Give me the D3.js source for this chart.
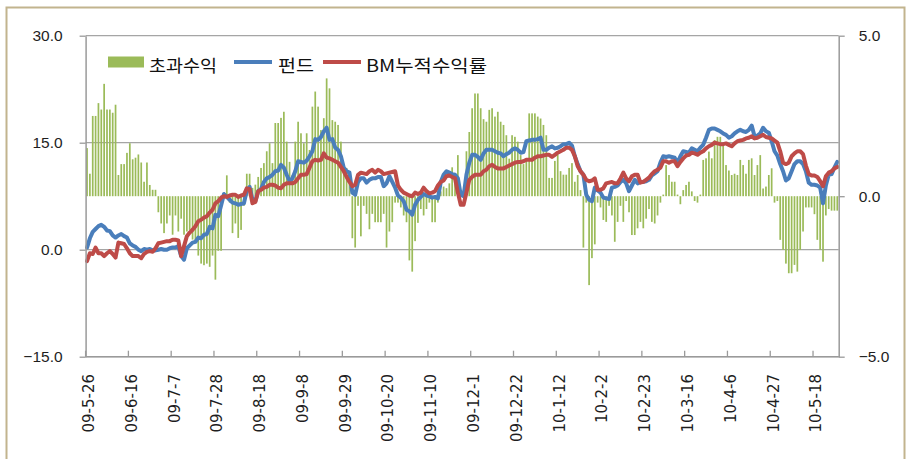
<!DOCTYPE html>
<html><head><meta charset="utf-8">
<script src="https://cdn.jsdelivr.net/npm/d3@7/dist/d3.min.js"></script>
<style>body{margin:0;background:#fff}svg{display:block}</style>
</head><body><svg id="c" width="909" height="459"></svg>
<script>
// ---- data ----
const startDate = "2009-05-26"; // first trading day (weekday categories)
const tickLabels = ["09-5-26","09-6-16","09-7-7","09-7-28","09-8-18","09-9-8","09-9-29","09-10-20","09-11-10","09-12-1","09-12-22","10-1-12","10-2-2","10-2-23","10-3-16","10-4-6","10-4-27","10-5-18"];
const seriesNames = ["초과수익","펀드","BM누적수익률"];
const leftTicks = [-15, 0, 15, 30];
const rightTicks = [-5, 0, 5];

const excess = [
1.5,0.7,2.5,2.5,2.9,2.7,3.5,2.7,2.7,2.6,
2.85,0.66,1.0,1.0,1.35,1.65,1.15,1.2,1.3,1.05,
0.45,1.05,0.35,0.2,0.2,-0.5,-0.85,-1.15,-0.85,-0.6,
-1.2,-0.6,-1.1,-0.7,-1.2,-1.1,-1.05,-1.35,-1.45,-1.85,
-2.1,-2.15,-2.1,-2.2,-1.85,-2.6,-1.7,-1.7,0.1,0.65,
-0.2,-1.15,-0.85,-1.3,-1.05,-0.3,0.7,0.7,0.26,0.36,
0.6,0.88,1.03,1.4,1.65,1.03,2.28,2.28,2.44,2.63,
1.7,1.07,0.66,1.7,2.32,1.96,1.65,1.96,1.44,2.79,
3.26,2.79,2.06,2.43,3.67,3.36,2.37,2.32,2.22,1.7,
0.88,0.88,0.4,-1.31,-1.6,-0.3,-1.25,-0.3,-0.55,-1.03,
-0.55,-0.81,-0.81,-0.81,-0.55,-1.6,-1.1,-0.81,-0.2,-0.2,
-0.35,-0.6,-0.81,-2.0,-2.35,-1.4,-0.83,-0.4,-0.6,-0.4,
-0.2,-0.81,-0.81,-0.2,0.15,0.3,0.25,0.4,0.9,0.7,
1.28,0.05,0.2,1.4,2.0,2.74,3.2,3.2,2.74,2.4,
2.32,2.69,2.74,2.48,2.63,2.32,2.22,1.9,1.17,1.9,
1.85,1.7,1.28,1.0,1.17,2.58,2.58,2.58,2.48,2.42,
2.22,1.9,0.57,0.57,1.1,1.3,0.78,0.67,0.67,0.88,
1.03,0.45,0.66,0.19,-1.6,-0.2,-2.77,-1.93,-1.5,-0.2,
-0.35,-0.74,-0.8,-0.3,-0.6,-1.42,-0.8,-0.3,-0.8,-0.15,
-0.5,-1.21,-1.21,-1.0,-0.8,-1.0,-0.7,-0.4,-0.8,-0.85,
-0.6,-0.2,0.05,0.97,0.66,0.45,0.45,0.05,-0.25,0.19,
0.35,0.45,0.15,-0.15,-0.2,0.05,1.13,1.18,1.39,1.18,
1.75,1.85,1.85,1.6,0.97,0.8,0.66,0.7,0.66,1.13,
0.97,0.7,1.13,1.18,0.66,0.97,1.28,0.24,0.3,0.66,
0.87,-0.2,-0.15,-1.36,-1.67,-2.1,-2.4,-2.4,-2.14,-2.35,
-1.67,-1.1,-0.35,-0.35,-0.35,-0.56,-1.36,-1.67,-2.04,-0.6,
-0.4,-0.45,-0.45,-0.45
];

const fund = [
0.3,1.6,2.5,2.9,3.3,3.5,3.2,2.7,2.6,2.0,
1.7,2.0,2.2,1.9,1.7,0.9,0.6,0.4,0.0,-0.2,
0.1,0.0,0.1,-0.1,-0.1,0.0,0.1,0.0,0.0,0.2,
0.3,0.3,0.5,-0.9,-1.4,0.2,0.6,1.0,1.1,1.7,
1.6,2.1,2.2,3.2,3.0,4.9,4.7,6.2,7.8,7.4,
7.0,6.6,6.5,6.3,6.4,6.5,8.3,8.8,7.0,6.8,
8.2,8.5,9.5,10.0,10.2,10.5,11.0,11.1,11.9,11.5,
10.5,9.6,10.0,11.0,12.4,12.3,12.2,12.5,13.1,13.8,
15.5,15.4,15.8,16.6,17.1,15.4,15.5,14.3,14.0,13.1,
11.5,11.0,10.8,8.0,7.7,9.5,10.0,10.0,9.4,9.8,
10.0,10.0,10.2,10.2,8.9,9.3,10.3,9.5,8.7,7.6,
7.3,6.8,5.6,5.4,4.9,6.3,7.0,7.4,7.8,7.6,
7.5,7.3,7.4,7.2,9.5,10.5,11.0,10.8,10.6,10.5,
10.0,7.7,7.5,10.5,12.2,13.3,13.3,13.0,12.6,13.5,
14.0,14.0,14.0,13.8,13.6,13.5,13.1,13.4,13.6,14.0,
14.2,14.0,13.6,13.7,15.2,15.3,15.4,15.4,15.5,15.7,
14.0,14.0,14.3,14.5,14.2,14.3,14.5,14.8,14.8,15.0,
14.6,13.1,12.0,11.0,10.5,7.7,7.0,6.8,8.7,8.3,
8.0,7.3,7.2,7.1,8.7,8.8,9.0,9.5,9.8,9.3,
8.2,9.0,9.8,9.3,9.5,9.5,9.6,9.8,10.4,10.7,
11.0,12.2,13.1,13.0,13.1,13.0,12.9,12.2,13.1,13.8,
13.7,13.6,14.2,14.0,13.8,14.3,14.7,15.7,16.8,17.0,
17.0,16.8,16.6,16.3,16.1,15.7,15.9,16.3,16.6,16.8,
16.6,16.5,16.8,17.4,15.9,16.0,16.3,17.1,16.6,16.4,
15.2,13.8,13.2,12.0,11.0,9.7,10.0,11.0,12.0,12.4,
12.4,12.0,11.0,9.4,9.1,9.1,9.0,8.7,6.5,9.0,
10.5,10.6,11.5,12.3
];

const bm = [
-1.6,-0.5,-0.6,0.3,-0.5,-0.5,-0.9,-0.5,-0.2,-0.6,
-1.1,1.0,0.9,0.8,0.2,-0.5,-0.9,-0.9,-0.9,-1.2,
-0.6,-0.3,-0.2,-0.3,0.2,0.9,1.0,1.1,1.2,1.2,
1.4,1.4,1.3,-0.9,0.5,1.9,2.4,2.8,3.3,4.0,
4.2,4.5,4.7,5.2,5.6,6.5,6.8,7.3,7.5,7.4,
7.6,7.7,7.7,7.4,7.6,7.7,8.6,8.5,6.5,6.7,
8.2,8.4,8.7,8.8,9.1,9.1,9.0,8.7,8.6,9.1,
9.3,9.3,9.3,9.5,10.0,10.5,10.5,10.6,11.5,12.4,
12.6,12.5,12.6,13.5,12.9,12.8,12.6,12.4,12.2,11.6,
11.0,10.2,9.5,8.9,9.1,10.5,10.8,10.7,10.6,11.0,
11.2,10.8,11.2,11.0,10.6,10.7,10.8,10.9,11.0,9.0,
8.4,8.0,7.8,7.6,7.5,8.0,7.8,8.0,8.7,8.2,
7.9,8.0,8.2,9.0,9.5,9.7,10.3,10.4,10.2,10.0,
8.0,6.3,6.3,8.0,9.8,10.2,10.5,10.5,10.5,11.0,
11.2,11.7,11.9,11.6,11.4,11.4,11.4,11.6,11.8,12.0,
12.2,12.3,12.3,12.4,12.6,12.6,12.6,12.9,13.1,13.1,
13.2,13.3,13.3,13.0,13.3,13.6,13.8,14.0,14.3,14.3,
14.0,13.1,11.7,11.0,10.5,9.8,9.6,9.7,10.0,8.4,
8.4,8.6,9.3,9.4,9.5,9.3,9.3,10.0,10.8,10.0,
9.6,10.3,10.5,10.5,9.4,9.5,9.8,10.1,10.6,11.0,
11.2,11.5,12.4,12.4,12.2,12.4,12.4,11.7,12.3,12.8,
13.2,13.3,13.6,13.5,13.3,13.6,13.8,14.2,14.5,14.7,
15.0,14.9,14.8,14.8,14.9,14.7,14.5,14.9,15.2,15.3,
15.4,15.6,15.7,15.9,15.6,15.7,15.9,16.1,15.8,15.7,
15.6,15.3,15.0,13.8,12.2,12.0,12.2,13.1,13.5,13.8,
13.8,13.4,11.8,10.6,10.4,10.4,10.2,9.6,8.9,10.3,
10.8,11.0,11.4,11.6
];

// ---- categories: weekdays from start ----
const n = fund.length;
const cats = [];
{
  let d = d3.timeParse("%Y-%m-%d")(startDate);
  while (cats.length < n) {
    const wd = d.getDay();
    if (wd > 0 && wd < 6) cats.push(d);
    d = d3.timeDay.offset(d, 1);
  }
}
const fmtCat = d => `${d3.timeFormat("%y")(d)}-${d.getMonth() + 1}-${d.getDate()}`;

// ---- layout ----
const L = 85.6, R = 838.7, T = 35.7, B = 356.7;
const svg = d3.select("#c");
const x = d3.scaleBand().domain(d3.range(n)).range([L, R]).paddingInner(0.4).paddingOuter(0.2);
const step = x.step();
const cx = i => x(i) + x.bandwidth() / 2;
const yL = d3.scaleLinear().domain([-15, 30]).range([B, T]);
const yR = d3.scaleLinear().domain([-5, 5]).range([B, T]);

// outer frame
svg.append("rect").attr("x", 6.5).attr("y", 7.5).attr("width", 898).attr("height", 460)
  .attr("fill", "none").attr("stroke", "#c2b48e").attr("stroke-width", 2);

// gridlines
const gridCol = "#a5a5a5";
svg.append("g").selectAll("line").data(leftTicks).join("line")
  .attr("x1", L).attr("x2", R).attr("y1", d => yL(d)).attr("y2", d => yL(d))
  .attr("stroke", gridCol).attr("stroke-width", 1.3);

// bars (right axis)
svg.append("g").selectAll("rect").data(excess).join("rect")
  .attr("x", (d, i) => x(i)).attr("width", x.bandwidth())
  .attr("y", d => yR(Math.max(0, d))).attr("height", d => Math.abs(yR(d) - yR(0)))
  .attr("fill", "#9bbb59");

// lines (left axis)
const line = d3.line().x((d, i) => cx(i)).y(d => yL(d)).curve(d3.curveLinear);
svg.append("path").datum(fund).attr("d", line).attr("fill", "none")
  .attr("stroke", "#4a7ebb").attr("stroke-width", 4).attr("stroke-linejoin", "round").attr("stroke-linecap", "round");
svg.append("path").datum(bm).attr("d", line).attr("fill", "none")
  .attr("stroke", "#be4b48").attr("stroke-width", 4).attr("stroke-linejoin", "round").attr("stroke-linecap", "round");

// axes
const axisFont = "'Liberation Sans', Arial, sans-serif";
const gl = svg.append("g").attr("transform", `translate(${L},0)`)
  .call(d3.axisLeft(yL).tickValues(leftTicks).tickFormat(d3.format(".1f")).tickSize(6).tickSizeOuter(0).tickPadding(17));
const gr = svg.append("g").attr("transform", `translate(${R},0)`)
  .call(d3.axisRight(yR).tickValues(rightTicks).tickFormat(d3.format(".1f")).tickSize(6).tickSizeOuter(0).tickPadding(14));
[gl, gr].forEach(g => {
  g.select(".domain").attr("stroke", "#9a9a9a").attr("stroke-width", 1.5);
  g.selectAll(".tick line").attr("stroke", "#9a9a9a").attr("stroke-width", 1.3);
  g.selectAll("text").attr("font-family", axisFont).attr("font-size", 15.5).attr("fill", "#1e1e1e");
});

// bottom axis
svg.append("line").attr("x1", L).attr("x2", R).attr("y1", B).attr("y2", B)
  .attr("stroke", "#9a9a9a").attr("stroke-width", 1.5);
const tickIdx = d3.range(0, n, 15);
svg.append("g").selectAll("line").data(tickIdx).join("line")
  .attr("x1", i => L + i * step).attr("x2", i => L + i * step)
  .attr("y1", B).attr("y2", B - 6).attr("stroke", "#9a9a9a").attr("stroke-width", 1.3);
svg.append("g").selectAll("text").data(tickIdx).join("text")
  .attr("transform", i => `translate(${cx(i) + 1.5},374) rotate(-90)`)
  .attr("text-anchor", "end").attr("dy", "0.36em")
  .attr("font-family", "'DejaVu Sans', Verdana, sans-serif").attr("font-size", 15).attr("fill", "#1e1e1e")
  .text((i, k) => tickLabels[k] || fmtCat(cats[i]));

// legend
const lg = svg.append("g").attr("font-family", "'Noto Sans CJK KR', sans-serif").attr("font-size", 17).attr("fill", "#111");
lg.append("rect").attr("x", 108).attr("y", 56.5).attr("width", 36).attr("height", 11).attr("fill", "#9bbb59");
lg.append("text").attr("x", 149).attr("y", 72).attr("textLength", 68).attr("lengthAdjust", "spacingAndGlyphs").text(seriesNames[0]);
lg.append("line").attr("x1", 234).attr("x2", 272).attr("y1", 62).attr("y2", 62).attr("stroke", "#4a7ebb").attr("stroke-width", 4);
lg.append("text").attr("x", 278).attr("y", 72).attr("textLength", 36).attr("lengthAdjust", "spacingAndGlyphs").text(seriesNames[1]);
lg.append("line").attr("x1", 323).attr("x2", 361).attr("y1", 62).attr("y2", 62).attr("stroke", "#be4b48").attr("stroke-width", 4);
lg.append("text").attr("x", 366).attr("y", 72).attr("textLength", 121).attr("lengthAdjust", "spacingAndGlyphs").text(seriesNames[2]);
</script>
</body></html>
